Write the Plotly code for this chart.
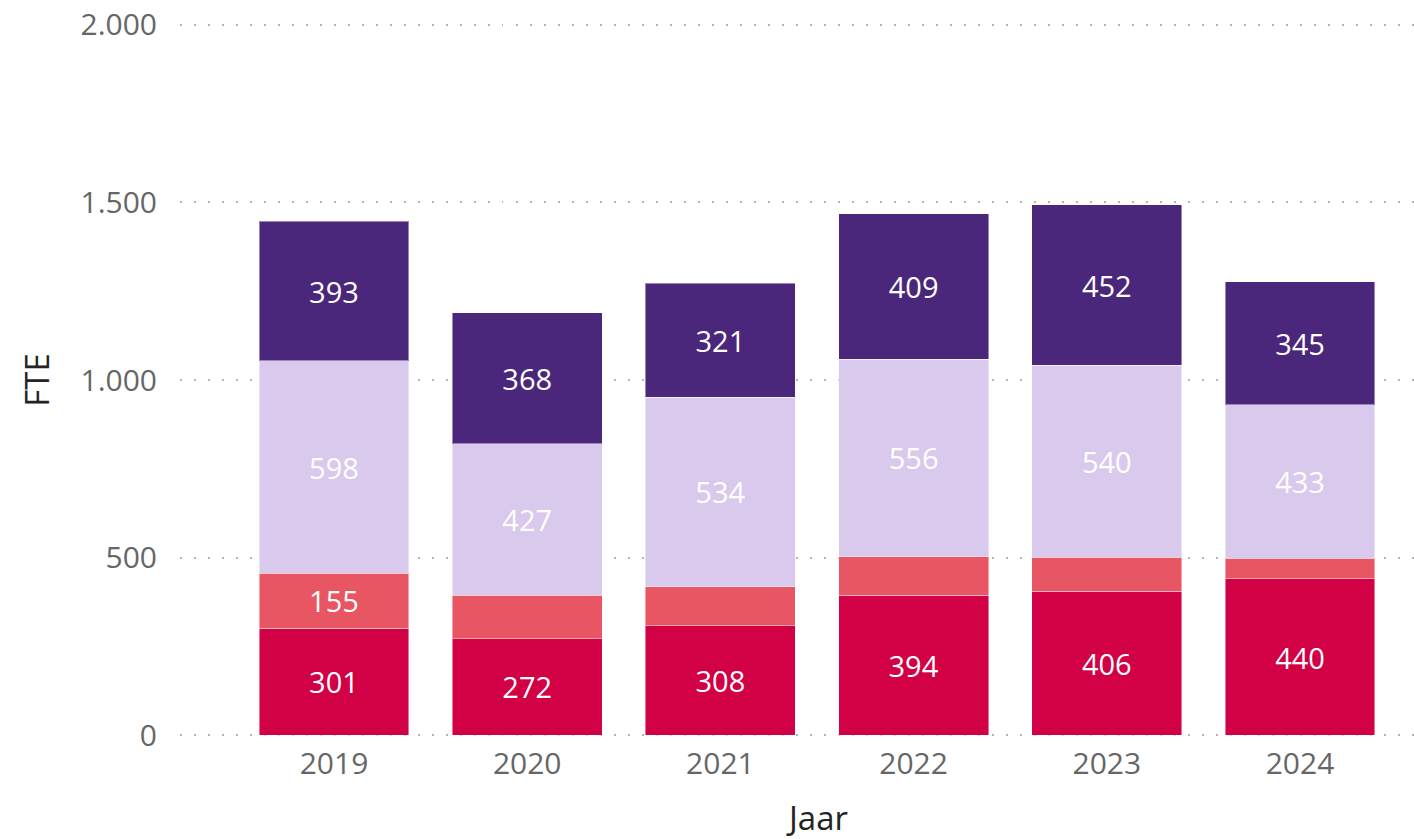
import plotly.graph_objects as go

years = ["2019", "2020", "2021", "2022", "2023", "2024"]
series_names = ["Serie A", "Serie B", "Serie C", "Serie D"]
serie_a = [301, 272, 308, 394, 406, 440]
serie_b = [155, 122, 110, 109, 95, 58]
serie_c = [598, 427, 534, 556, 540, 433]
serie_d = [393, 368, 321, 409, 452, 345]
colors = ["#D20044", "#E85563", "#D9C9EC", "#4A277B"]
y_ticks = [0, 500, 1000, 1500, 2000]
label_min = 150

fig = go.Figure()
for name, vals, col in zip(series_names, [serie_a, serie_b, serie_c, serie_d], colors):
    fig.add_trace(go.Bar(
        x=years, y=vals, name=name,
        marker=dict(color=col, line=dict(color="rgba(255,255,255,0.45)", width=1)),
        text=[str(v) if v >= label_min else "" for v in vals],
        textposition="inside", insidetextanchor="middle",
        textfont=dict(family="Liberation Sans Narrow, Open Sans, sans-serif", size=29, color="white"),
        constraintext="none",
        hoverinfo="x+y+name",
    ))

fig.update_layout(
    barmode="stack",
    bargap=0.224,
    width=1414, height=839,
    margin=dict(l=180, r=0, t=23, b=102),
    paper_bgcolor="white", plot_bgcolor="white",
    showlegend=False,
    separators=",.",
    font=dict(family="Open Sans, sans-serif"),
    xaxis=dict(
        type="category",
        range=[-0.797, 5.59],
        showgrid=False, showline=False, zeroline=False,
        tickfont=dict(size=30, color="#666666"),
        ticks="", ticklabelstandoff=6,
    ),
    yaxis=dict(
        range=[-5, 2005],
        tickvals=y_ticks,
        tickformat=",d",
        showgrid=True, gridcolor="#B4B4B4", gridwidth=1.5, griddash="1.5px,12.5px",
        zeroline=False, showline=False,
        tickfont=dict(size=30, color="#666666"),
        ticklabelstandoff=22,
        title=dict(text="FTE", font=dict(size=33, color="#252423"), standoff=20),
    ),
    annotations=[dict(
        text="Jaar", xref="x", yref="paper", x=2.5, y=0, yshift=-80,
        showarrow=False, font=dict(size=33, color="#252423"), yanchor="middle",
    )],
)

fig.write_html(
    "out.html",
    config={"displayModeBar": False},
    post_script="document.body.style.margin='0';document.body.style.padding='0';",
)
